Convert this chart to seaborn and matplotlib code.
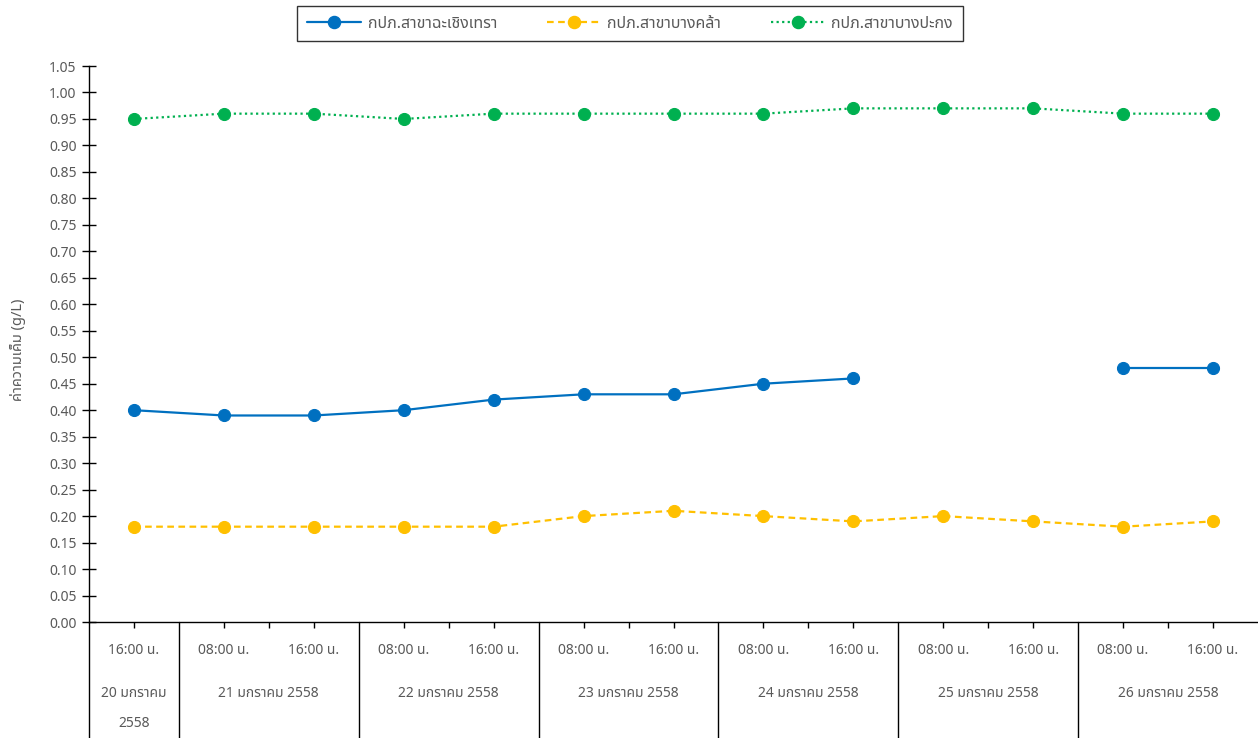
import numpy as np
import pandas as pd
import seaborn as sns
import matplotlib.pyplot as plt
from matplotlib import font_manager
from matplotlib.ft2font import FT2Font
from matplotlib.lines import Line2D
import matplotlib.transforms as mtransforms

# data
time_labels = ['16:00 น.', '08:00 น.', '16:00 น.', '08:00 น.', '16:00 น.', '08:00 น.', '16:00 น.',
               '08:00 น.', '16:00 น.', '08:00 น.', '16:00 น.', '08:00 น.', '16:00 น.']
date_labels = ['20 มกราคม\n2558', '21 มกราคม 2558', '22 มกราคม 2558', '23 มกราคม 2558',
               '24 มกราคม 2558', '25 มกราคม 2558', '26 มกราคม 2558']
series_names = ['กปภ.สาขาฉะเชิงเทรา', 'กปภ.สาขาบางคล้า', 'กปภ.สาขาบางปะกง']
chachoengsao = [0.40, 0.39, 0.39, 0.40, 0.42, 0.43, 0.43, 0.45, 0.46, np.nan, np.nan, 0.48, 0.48]
bang_khla = [0.18, 0.18, 0.18, 0.18, 0.18, 0.20, 0.21, 0.20, 0.19, 0.20, 0.19, 0.18, 0.19]
bang_pakong = [0.95, 0.96, 0.96, 0.95, 0.96, 0.96, 0.96, 0.96, 0.97, 0.97, 0.97, 0.96, 0.96]
y_label = 'ค่าความเค็ม (g/L)'


def find_thai_font():
    preferred = ['Noto Sans Thai', 'Noto Sans Thai UI', 'Loma', 'Garuda', 'Tahoma', 'Leelawadee UI',
                 'Waree', 'Sawasdee', 'Tlwg Typo', 'Norasi']
    found = []
    for f in font_manager.fontManager.ttflist:
        try:
            if 0x0E01 in FT2Font(f.fname).get_charmap():
                found.append(f.name)
        except Exception:
            pass
    for name in preferred:
        if name in found:
            return [name]
    return found[:1]


sns.set_style('white')
plt.rcParams['font.family'] = find_thai_font() + ['DejaVu Sans']

grey = '#595959'
colors = ['#0070C0', '#FFC000', '#00B050']
styles = ['-', (0, (3, 2)), (0, (1, 1.5))]

fig = plt.figure(figsize=(12.58, 7.38), dpi=100)
ax = fig.add_axes([89 / 1258, 1 - 622 / 738, 1169 / 1258, 556 / 738])

for name, vals, c, ls in zip(series_names, [chachoengsao, bang_khla, bang_pakong], colors, styles):
    df = pd.DataFrame({'x': np.arange(len(vals)), 'y': vals})
    df['seg'] = df['y'].isna().cumsum()
    df = df.dropna()
    sns.lineplot(data=df, x='x', y='y', units='seg', estimator=None, ax=ax, color=c,
                 linestyle=ls, linewidth=1.6, marker='o', markersize=8.7,
                 markeredgecolor=c, legend=False)

ax.set_xlim(-0.5, len(time_labels) - 0.5)
ax.set_ylim(0, 1.05)
ax.set_yticks(np.arange(0, 1.051, 0.05))
ax.set_yticklabels([f'{v:.2f}' for v in np.arange(0, 1.051, 0.05)], color=grey, fontsize=10)
ax.tick_params(axis='y', direction='inout', length=10, width=1, color='black', pad=4, left=True)
ax.set_xticks(np.arange(len(time_labels)))
ax.set_xticks(np.arange(1.5, len(time_labels) - 1, 2), minor=True)
ax.set_xticklabels([])
ax.tick_params(axis='x', which='both', direction='out', length=4, width=1, color='black', bottom=True)
ax.set_xlabel('')
ax.set_ylabel('')
for side in ['top', 'right']:
    ax.spines[side].set_visible(False)
for side in ['left', 'bottom']:
    ax.spines[side].set_color('black')
    ax.spines[side].set_linewidth(1)

trans = mtransforms.blended_transform_factory(ax.transData, ax.transAxes)
for i, t in enumerate(time_labels):
    ax.text(i, -0.052, t, transform=trans, ha='center', va='center', color=grey, fontsize=10)

date_centers = [0] + [2 * k - 0.5 for k in range(1, len(date_labels))]
for xc, d in zip(date_centers, date_labels):
    for j, line in enumerate(d.split('\n')):
        ax.text(xc, -0.129 - j * 0.053, line, transform=trans, ha='center', va='center',
                color=grey, fontsize=10)

for xb in [-0.5] + [2 * k + 0.5 for k in range(len(date_labels) - 1)]:
    ax.plot([xb, xb], [0, -0.21], transform=trans, color='black', lw=1, clip_on=False)

fig.text(18 / 1258, 1 - 350 / 738, y_label, rotation=90, ha='center', va='center',
         color=grey, fontsize=10.5)

handles = [Line2D([], [], color=c, linestyle=ls, linewidth=1.6, marker='o', markersize=8.7)
           for c, ls in zip(colors, styles)]
leg = fig.legend(handles, series_names, loc='center', bbox_to_anchor=(630 / 1258, 1 - 23.5 / 738),
                 ncol=3, frameon=True, fancybox=False, edgecolor='black', fontsize=11.5,
                 handlelength=3.4, columnspacing=3.1, borderpad=0.62, handletextpad=0.4,
                 borderaxespad=0)
leg.get_frame().set_linewidth(1)
for txt in leg.get_texts():
    txt.set_color(grey)

fig.savefig('out.png', dpi=100)
